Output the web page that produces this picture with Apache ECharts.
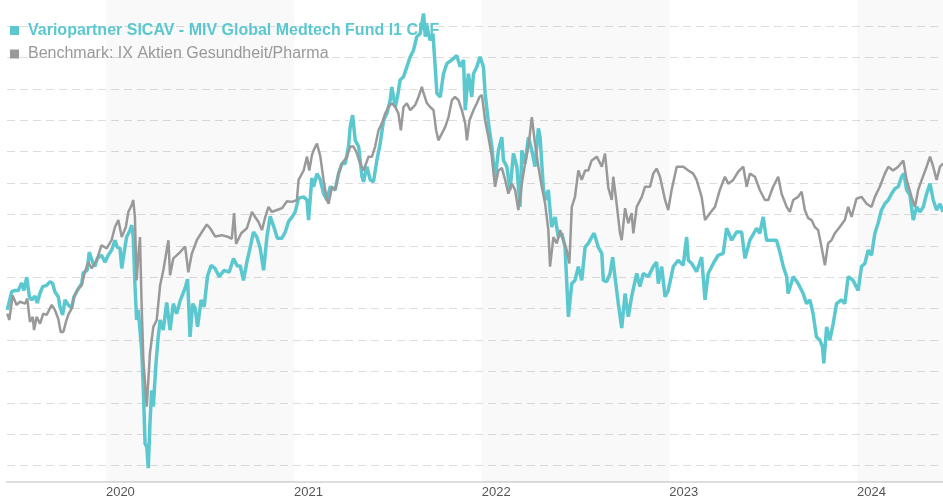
<!DOCTYPE html>
<html><head><meta charset="utf-8">
<script src="https://cdn.jsdelivr.net/npm/echarts@6/dist/echarts.min.js"></script>
<style>html,body{margin:0;padding:0;background:#fff}#c{width:943px;height:500px}</style>
</head><body><div id="c"></div>
<script>
const seriesNames = ['Variopartner SICAV - MIV Global Medtech Fund I1 CHF', 'Benchmark: IX Aktien Gesundheit/Pharma'];
const shadedYears = [2020, 2022, 2024];
const xRange = [2019.4728, 2024.457];
// [decimal year, indexed value]
const fund = [[2019.474,99.8],[2019.498,102.7],[2019.515,102.9],[2019.533,102.9],[2019.551,104.1],[2019.563,102.9],[2019.578,105.0],[2019.592,101.9],[2019.604,101.4],[2019.622,102.0],[2019.634,100.9],[2019.649,102.5],[2019.663,103.5],[2019.684,103.7],[2019.702,104.3],[2019.716,104.0],[2019.728,102.7],[2019.746,101.9],[2019.755,100.3],[2019.769,99.0],[2019.782,101.4],[2019.799,100.6],[2019.817,100.1],[2019.830,101.9],[2019.847,102.9],[2019.871,104.0],[2019.879,105.7],[2019.900,106.1],[2019.911,109.0],[2019.929,107.4],[2019.941,106.7],[2019.954,108.0],[2019.977,108.5],[2019.995,107.4],[2020.012,108.5],[2020.030,109.3],[2020.048,110.9],[2020.060,109.8],[2020.075,109.6],[2020.084,106.4],[2020.096,108.8],[2020.110,111.4],[2020.128,112.5],[2020.137,113.3],[2020.145,111.4],[2020.154,104.0],[2020.163,98.2],[2020.172,99.8],[2020.190,93.4],[2020.199,87.0],[2020.208,78.5],[2020.217,78.0],[2020.225,74.6],[2020.234,81.7],[2020.243,87.0],[2020.252,84.4],[2020.266,91.3],[2020.278,95.5],[2020.288,98.2],[2020.305,96.6],[2020.323,101.0],[2020.341,96.6],[2020.358,100.8],[2020.376,99.2],[2020.394,101.2],[2020.421,103.3],[2020.434,104.7],[2020.447,95.5],[2020.461,100.8],[2020.474,100.1],[2020.487,97.1],[2020.506,101.4],[2020.522,100.3],[2020.540,105.2],[2020.559,106.9],[2020.580,106.4],[2020.602,105.1],[2020.628,106.1],[2020.655,105.8],[2020.678,108.0],[2020.698,106.8],[2020.714,106.8],[2020.731,104.5],[2020.749,107.4],[2020.767,109.8],[2020.784,112.2],[2020.802,111.4],[2020.820,109.6],[2020.838,106.1],[2020.856,111.5],[2020.873,114.7],[2020.895,112.8],[2020.911,111.2],[2020.935,111.2],[2020.953,112.2],[2020.971,113.9],[2020.990,114.6],[2021.006,115.4],[2021.024,117.6],[2021.051,117.8],[2021.069,117.3],[2021.077,114.1],[2021.095,120.8],[2021.104,119.4],[2021.122,121.5],[2021.140,120.5],[2021.157,118.3],[2021.175,117.3],[2021.193,119.4],[2021.219,118.9],[2021.237,121.5],[2021.255,123.1],[2021.273,123.1],[2021.290,125.8],[2021.299,128.9],[2021.312,130.8],[2021.326,126.8],[2021.344,125.8],[2021.362,121.0],[2021.370,120.2],[2021.388,122.6],[2021.406,120.5],[2021.423,120.2],[2021.441,123.6],[2021.459,126.3],[2021.477,130.0],[2021.495,131.1],[2021.512,133.2],[2021.521,135.3],[2021.539,132.1],[2021.551,133.7],[2021.565,136.4],[2021.583,136.9],[2021.601,138.5],[2021.619,140.1],[2021.636,141.1],[2021.654,143.3],[2021.672,143.8],[2021.690,147.0],[2021.699,143.3],[2021.708,144.9],[2021.725,142.7],[2021.740,143.8],[2021.752,138.5],[2021.761,134.3],[2021.779,133.7],[2021.796,137.4],[2021.814,139.0],[2021.841,139.6],[2021.867,140.3],[2021.885,138.5],[2021.903,139.6],[2021.912,131.6],[2021.929,137.4],[2021.947,133.7],[2021.956,137.4],[2021.974,138.5],[2021.991,140.1],[2022.009,138.5],[2022.018,134.3],[2022.036,129.5],[2022.054,125.8],[2022.071,120.5],[2022.089,125.2],[2022.107,127.3],[2022.116,123.6],[2022.134,122.6],[2022.151,118.9],[2022.169,124.7],[2022.187,122.6],[2022.204,116.2],[2022.214,125.2],[2022.231,123.1],[2022.249,127.3],[2022.267,125.2],[2022.284,122.6],[2022.302,128.7],[2022.311,127.3],[2022.329,118.9],[2022.343,117.3],[2022.355,118.9],[2022.364,115.7],[2022.373,113.0],[2022.391,114.6],[2022.408,111.4],[2022.427,112.0],[2022.444,109.8],[2022.462,98.7],[2022.480,104.0],[2022.497,104.5],[2022.515,106.7],[2022.533,104.5],[2022.551,109.8],[2022.568,110.4],[2022.586,111.4],[2022.599,112.0],[2022.621,109.8],[2022.640,108.8],[2022.648,104.5],[2022.666,104.3],[2022.684,105.6],[2022.698,108.2],[2022.710,105.1],[2022.728,100.8],[2022.746,96.9],[2022.764,102.4],[2022.781,98.7],[2022.799,101.9],[2022.826,105.6],[2022.843,103.5],[2022.861,105.6],[2022.888,105.1],[2022.914,106.7],[2022.932,107.4],[2022.941,104.0],[2022.959,106.7],[2022.977,101.9],[2022.994,102.9],[2023.021,106.7],[2023.047,107.7],[2023.074,106.9],[2023.092,111.4],[2023.101,107.7],[2023.119,107.2],[2023.145,105.9],[2023.172,108.2],[2023.190,101.4],[2023.207,105.6],[2023.234,107.2],[2023.260,108.5],[2023.287,108.8],[2023.305,112.8],[2023.332,110.9],[2023.358,112.2],[2023.385,112.2],[2023.403,108.0],[2023.429,110.9],[2023.465,112.8],[2023.482,112.0],[2023.500,114.6],[2023.518,110.9],[2023.545,110.9],[2023.571,110.9],[2023.589,109.0],[2023.607,106.7],[2023.625,105.1],[2023.633,102.4],[2023.660,105.1],[2023.686,104.0],[2023.713,102.4],[2023.731,100.8],[2023.749,101.4],[2023.766,99.2],[2023.784,95.5],[2023.802,95.0],[2023.816,93.9],[2023.823,91.3],[2023.838,97.1],[2023.855,95.0],[2023.873,97.6],[2023.891,100.8],[2023.917,101.4],[2023.935,100.8],[2023.953,105.1],[2023.979,104.5],[2024.006,102.9],[2024.024,106.7],[2024.042,107.2],[2024.059,109.3],[2024.077,108.5],[2024.095,112.0],[2024.112,113.6],[2024.130,115.7],[2024.148,116.7],[2024.166,117.3],[2024.184,118.3],[2024.201,119.1],[2024.219,119.4],[2024.237,121.0],[2024.249,121.5],[2024.264,118.9],[2024.281,118.1],[2024.299,114.1],[2024.317,116.2],[2024.334,115.4],[2024.352,116.2],[2024.370,118.3],[2024.388,119.9],[2024.405,117.3],[2024.423,115.7],[2024.441,116.7],[2024.457,115.4]];
const bench = [[2019.474,99.2],[2019.485,98.2],[2019.503,102.1],[2019.524,100.6],[2019.542,101.1],[2019.569,100.8],[2019.581,101.6],[2019.595,97.9],[2019.610,98.7],[2019.617,96.6],[2019.631,98.7],[2019.649,97.6],[2019.666,99.2],[2019.684,99.0],[2019.711,100.6],[2019.728,99.8],[2019.746,98.4],[2019.759,96.3],[2019.773,96.3],[2019.787,97.9],[2019.799,99.0],[2019.817,100.0],[2019.830,101.9],[2019.853,103.2],[2019.871,103.7],[2019.888,105.9],[2019.906,107.4],[2019.924,106.4],[2019.950,107.7],[2019.977,110.1],[2020.004,109.6],[2020.030,110.9],[2020.048,113.0],[2020.066,114.1],[2020.084,111.4],[2020.106,113.0],[2020.119,115.4],[2020.137,116.5],[2020.145,117.3],[2020.154,114.6],[2020.163,104.5],[2020.172,108.2],[2020.181,111.4],[2020.189,101.4],[2020.199,91.8],[2020.217,84.4],[2020.234,92.9],[2020.252,97.1],[2020.270,98.2],[2020.288,103.7],[2020.305,106.1],[2020.323,109.3],[2020.332,110.9],[2020.341,105.3],[2020.358,108.0],[2020.373,108.4],[2020.394,109.0],[2020.421,109.9],[2020.438,105.8],[2020.456,108.7],[2020.483,110.9],[2020.510,112.2],[2020.536,113.4],[2020.554,112.8],[2020.580,111.5],[2020.616,111.7],[2020.651,111.4],[2020.669,111.1],[2020.681,115.2],[2020.692,110.3],[2020.719,112.0],[2020.749,112.8],[2020.776,115.4],[2020.793,114.6],[2020.811,113.8],[2020.829,112.5],[2020.847,114.6],[2020.864,116.2],[2020.882,115.4],[2020.909,115.7],[2020.936,116.0],[2020.962,117.1],[2020.989,117.0],[2021.015,117.3],[2021.024,120.5],[2021.051,122.0],[2021.069,124.2],[2021.081,122.0],[2021.095,124.4],[2021.104,125.2],[2021.122,126.3],[2021.140,124.2],[2021.157,120.5],[2021.175,117.3],[2021.184,116.7],[2021.202,119.4],[2021.219,118.9],[2021.237,121.5],[2021.255,123.1],[2021.282,124.2],[2021.299,125.8],[2021.317,125.8],[2021.335,124.7],[2021.352,123.1],[2021.370,122.0],[2021.397,124.2],[2021.415,124.2],[2021.432,125.8],[2021.450,128.4],[2021.468,129.5],[2021.486,131.1],[2021.503,132.1],[2021.521,132.7],[2021.539,132.1],[2021.556,131.1],[2021.569,128.4],[2021.583,132.1],[2021.601,132.7],[2021.619,131.6],[2021.645,132.4],[2021.663,133.7],[2021.681,135.3],[2021.690,134.3],[2021.708,132.7],[2021.725,132.1],[2021.743,131.6],[2021.757,128.4],[2021.769,126.8],[2021.788,127.9],[2021.805,128.9],[2021.823,130.5],[2021.841,133.2],[2021.858,133.7],[2021.876,133.2],[2021.894,131.6],[2021.912,129.5],[2021.921,126.8],[2021.935,130.0],[2021.956,131.6],[2021.974,132.7],[2021.988,133.7],[2022.001,134.0],[2022.018,130.0],[2022.036,127.3],[2022.054,124.2],[2022.071,119.4],[2022.089,122.0],[2022.107,122.4],[2022.125,120.5],[2022.142,118.3],[2022.160,119.9],[2022.178,118.9],[2022.195,115.7],[2022.214,119.9],[2022.231,123.1],[2022.249,125.8],[2022.267,130.5],[2022.284,126.3],[2022.302,122.6],[2022.320,119.4],[2022.338,116.7],[2022.355,112.5],[2022.364,106.7],[2022.382,111.4],[2022.400,110.4],[2022.418,112.5],[2022.435,110.9],[2022.453,109.3],[2022.467,107.2],[2022.480,116.2],[2022.497,117.8],[2022.515,122.0],[2022.533,120.5],[2022.551,122.0],[2022.568,122.0],[2022.586,123.6],[2022.613,124.2],[2022.640,122.6],[2022.657,124.7],[2022.675,119.2],[2022.693,117.3],[2022.701,121.0],[2022.719,116.7],[2022.737,112.0],[2022.746,110.9],[2022.764,116.0],[2022.781,113.6],[2022.799,115.2],[2022.808,112.0],[2022.826,116.2],[2022.853,117.8],[2022.870,119.4],[2022.897,119.4],[2022.914,121.5],[2022.932,122.3],[2022.950,121.0],[2022.977,117.3],[2022.994,115.7],[2023.012,118.9],[2023.039,122.6],[2023.074,122.6],[2023.101,122.0],[2023.127,121.5],[2023.145,120.5],[2023.172,117.8],[2023.190,114.1],[2023.216,115.2],[2023.243,116.2],[2023.269,118.9],[2023.296,121.0],[2023.314,119.9],[2023.340,120.5],[2023.367,121.8],[2023.394,122.6],[2023.412,119.4],[2023.429,121.5],[2023.456,121.0],[2023.482,118.9],[2023.509,117.3],[2023.527,117.3],[2023.553,119.4],[2023.580,121.0],[2023.598,118.3],[2023.625,116.2],[2023.642,115.4],[2023.660,117.3],[2023.686,117.8],[2023.705,118.6],[2023.722,115.7],[2023.740,114.4],[2023.758,114.1],[2023.775,113.0],[2023.793,112.5],[2023.811,109.8],[2023.829,106.9],[2023.846,110.4],[2023.864,110.9],[2023.882,112.0],[2023.908,113.0],[2023.935,114.1],[2023.953,116.2],[2023.971,114.6],[2023.997,117.5],[2024.024,117.8],[2024.051,116.7],[2024.077,116.2],[2024.095,117.8],[2024.121,119.4],[2024.148,121.5],[2024.166,122.6],[2024.192,122.0],[2024.219,122.6],[2024.246,123.6],[2024.264,120.5],[2024.290,117.8],[2024.308,116.2],[2024.325,118.9],[2024.344,120.5],[2024.370,122.6],[2024.388,124.2],[2024.405,122.6],[2024.423,120.5],[2024.441,122.6],[2024.457,123.1]];

function ts(t) {
  const y = Math.floor(t);
  const s = new Date(y, 0, 1).getTime();
  const e = new Date(y + 1, 0, 1).getTime();
  return s + (t - y) * (e - s);
}
const toSeries = arr => arr.map(p => [ts(p[0]), p[1]]);
const xMin = ts(xRange[0]), xMax = ts(xRange[1]);
const DAY = 86400000;

const chart = echarts.init(document.getElementById('c'), null, {renderer: 'canvas'});
chart.setOption({
  animation: false,
  backgroundColor: '#ffffff',
  grid: {left: 7, right: 0, top: 0, bottom: 2.9, containLabel: false},
  legend: {
    orient: 'vertical', left: 5, top: 17.5,
    icon: 'rect', itemWidth: 9, itemHeight: 9, itemGap: 7.5,
    selectedMode: false,
    formatter: name => '{g| }' + name,
    textStyle: {fontFamily: 'Liberation Sans, Arial, sans-serif', fontSize: 16, lineHeight: 16,
      rich: {g: {width: 4}}},
    data: [
      {name: seriesNames[0], textStyle: {color: '#5bc8cf', fontWeight: 'bold'}},
      {name: seriesNames[1], textStyle: {color: '#999999', fontWeight: 'normal'}}
    ]
  },
  xAxis: {
    type: 'time', min: xMin, max: xMax, offset: -15.1,
    minInterval: 365 * DAY, maxInterval: 366 * DAY,
    axisLine: {show: true, lineStyle: {color: '#dddddd', width: 2}},
    axisTick: {show: false},
    splitLine: {show: false},
    axisLabel: {
      formatter: v => String(new Date(v).getFullYear()),
      showMinLabel: false, showMaxLabel: false,
      align: 'left', margin: 4,
      color: '#555555', fontSize: 13, fontFamily: 'Liberation Sans, Arial, sans-serif'
    }
  },
  yAxis: {
    type: 'value', min: 70, max: 149.14, interval: 5,
    axisLine: {show: false}, axisTick: {show: false}, axisLabel: {show: false},
    splitLine: {show: true, showMinLine: false, showMaxLine: false,
      lineStyle: {color: '#dddddd', width: 1, type: [8, 5]}}
  },
  series: [
    {
      name: seriesNames[0], type: 'line', data: toSeries(fund),
      symbol: 'none', showSymbol: false, color: '#5bc8cf',
      lineStyle: {width: 3.5, color: '#5bc8cf'},
      markArea: {
        silent: true,
        itemStyle: {color: 'rgba(0,0,0,0.025)'},
        data: shadedYears.map(y => [{xAxis: ts(y), yAxis: 72.4}, {xAxis: Math.min(ts(y + 1), xMax), yAxis: 149.14}])
      }
    },
    {
      name: seriesNames[1], type: 'line', data: toSeries(bench),
      symbol: 'none', showSymbol: false, color: '#999999',
      lineStyle: {width: 2.5, color: '#999999'}
    }
  ]
});
</script>
</body></html>
